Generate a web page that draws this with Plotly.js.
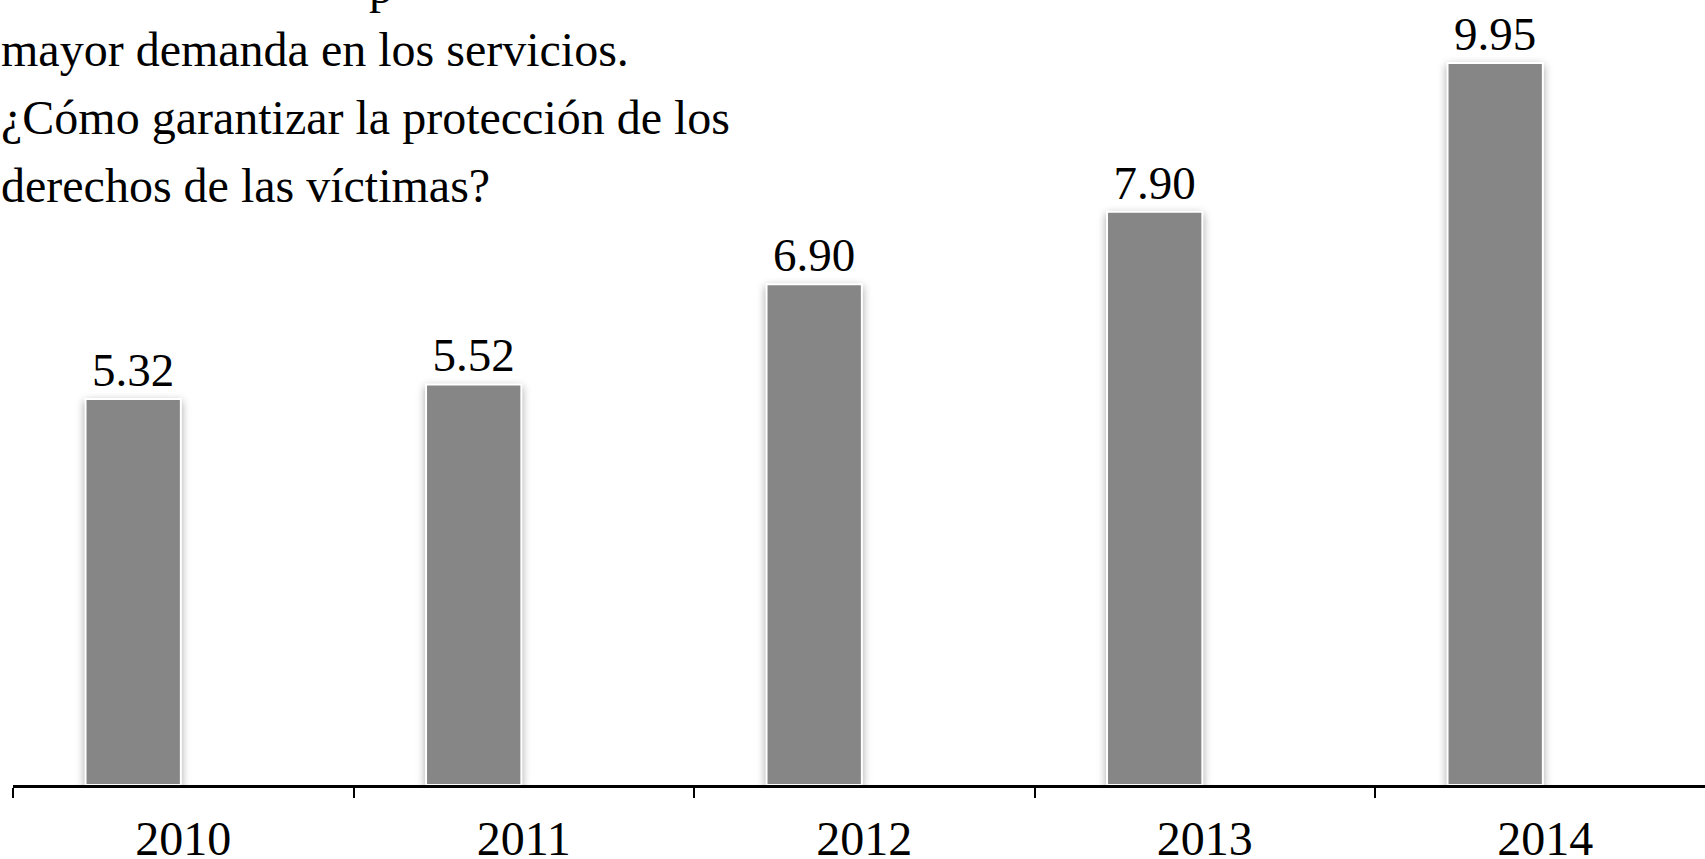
<!DOCTYPE html>
<html>
<head>
<meta charset="utf-8">
<script src="https://cdn.plot.ly/plotly-3.0.1.min.js"></script>
<style>
  html, body { margin: 0; padding: 0; background: #ffffff; }
  #chart { width: 1705px; height: 859px; }
  .js-plotly-plot .barlayer .point path { filter: drop-shadow(0px 3px 4px rgba(0,0,0,0.35)); }
</style>
</head>
<body>
<div id="chart"></div>
<script>
// ---- data ----
const years = ['2010', '2011', '2012', '2013', '2014'];
const values = [5.32, 5.52, 6.90, 7.90, 9.95];
const valueLabels = ['5.32', '5.52', '6.90', '7.90', '9.95'];
const noteLines = [
  'p',
  'mayor demanda en los servicios.',
  '¿Cómo garantizar la protección de los',
  'derechos de las víctimas?'
];

// ---- layout geometry (pixels) ----
const W = 1705, H = 859;
const marginL = 13, marginB = 74;
const plotW = W - marginL, plotH = H - marginB;
const catPx = 340.5;
const pxPerUnit = 72.56;
const serif = 'Liberation Serif, Times New Roman, serif';

const trace = {
  type: 'bar',
  x: years,
  y: values,
  text: valueLabels,
  textposition: 'outside',
  cliponaxis: false,
  textfont: { family: serif, size: 47, color: '#000000' },
  offset: -0.287,
  width: 0.28,
  marker: { color: '#868686', line: { color: '#ffffff', width: 2 } },
  hoverinfo: 'none'
};

// note text lines, placed in pixel terms converted to paper units
const lineCentersPx = [-14, 50, 118, 186];
const annotations = noteLines.map((t, i) => ({
  text: t,
  xref: 'paper', yref: 'paper',
  x: (i === 0 ? (368 - marginL) : -marginL) / plotW,
  y: 1 - lineCentersPx[i] / plotH,
  xanchor: 'left', yanchor: 'middle',
  showarrow: false,
  font: { family: serif, size: 48, color: '#000000' },
  borderpad: 0
}));

const layout = {
  width: W, height: H,
  margin: { l: marginL, r: 0, t: 0, b: marginB, pad: 0 },
  paper_bgcolor: '#ffffff',
  plot_bgcolor: '#ffffff',
  showlegend: false,
  xaxis: {
    type: 'category',
    range: [-0.5, -0.5 + plotW / catPx],
    showline: true, linecolor: '#000000', linewidth: 3,
    ticks: 'outside', tickson: 'boundaries', ticklen: 10, tickwidth: 2, tickcolor: '#000000',
    showgrid: false, zeroline: false,
    tickfont: { family: serif, size: 48, color: '#000000' },
    ticklabelstandoff: 9,
    fixedrange: true
  },
  yaxis: {
    visible: false,
    range: [0, plotH / pxPerUnit],
    showgrid: false, zeroline: false,
    fixedrange: true
  },
  annotations: annotations
};

Plotly.newPlot('chart', [trace], layout, { staticPlot: true, displayModeBar: false });
</script>
</body>
</html>
